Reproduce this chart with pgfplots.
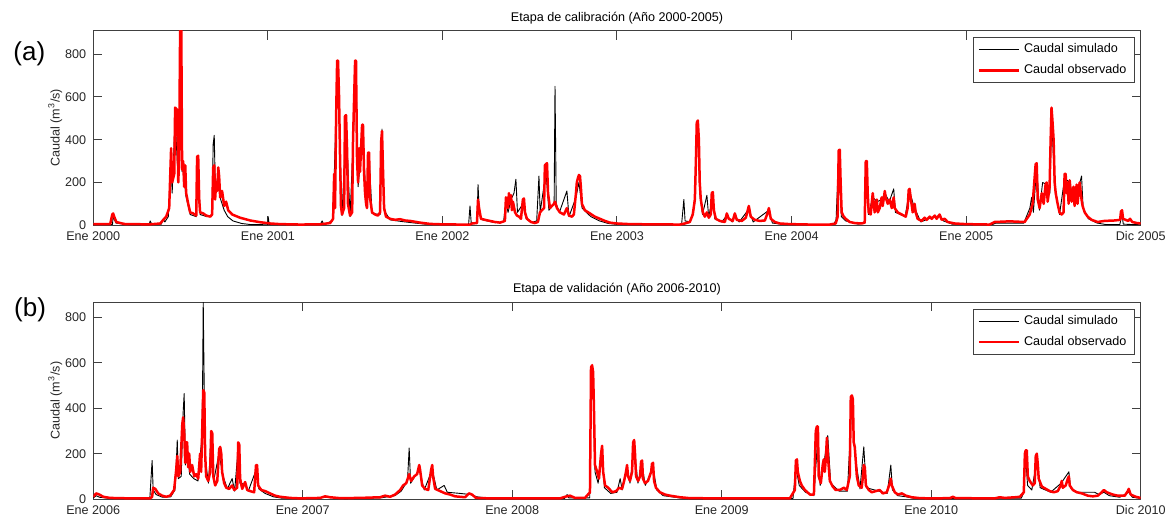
\documentclass[border=0pt]{standalone}
\usepackage{fontspec}
\setmainfont{Liberation Sans}
\usepackage{pgfplots}
\pgfplotsset{compat=1.18}

\newcommand\fs{\fontsize{6.3}{7.5}\selectfont}

\pgfplotsset{
  caudal/.style={
    width=524pt, scale only axis,
    xmin=0, ymin=0,
    clip mode=individual,
    axis line style={black!75, line width=0.5pt},
    tick style={black!75, line width=0.5pt},
    tick align=inside, major tick length=4.5pt,
    ytick={0,200,400,600,800},
    ticklabel style={font=\fs, text=black!85},
    /pgf/number format/assume math mode=true,
    xticklabel style={anchor=base, yshift=-7.9pt},
    every axis title shift=0pt,
    title style={font=\fs, anchor=base, at={(0.5,1)}, yshift=4.7pt},
    ylabel={Caudal (m\textsuperscript{3}/s)},
    ylabel style={font=\fs, text=black!85, at={(axis description cs:-0.0363,0.5)}, anchor=center},
    legend style={at={(1,1)}, anchor=north east, xshift=-3pt, yshift=-3.2pt,
      font=\fs, draw=black!75, inner xsep=2pt, inner ysep=1pt, row sep=0.5pt},
    legend cell align=left,
    legend image code/.code={\draw[#1] (0pt,0pt) -- (20pt,0pt);},
  },
  sim/.style={black, line width=0.45pt, line join=round},
  obs/.style={red, line width=1.25pt, line join=round},
}

\begin{document}
\begin{tikzpicture}
% (a) calibracion 2000-2005, x en anios desde Ene 2000
\begin{axis}[caudal, name=A, at={(0,0)}, anchor=north west,
    height=97.3pt, xmax=6, ymax=910,
    xtick={0,1,2,3,4,5,6},
    xticklabels={Ene 2000,Ene 2001,Ene 2002,Ene 2003,Ene 2004,Ene 2005,Dic 2005},
    title={Etapa de calibración (Año 2000-2005)}]
\addplot[sim] coordinates {
(0,3) (0.11,3) (0.114,40) (0.13,10) (0.2,3) (0.32,2) (0.326,20) (0.335,4) (0.39,5)
(0.401,30) (0.41,15) (0.43,40) (0.446,300) (0.452,150) (0.469,500) (0.487,200)
(0.498,650) (0.509,250) (0.515,280) (0.53,140) (0.555,50) (0.59,40) (0.601,300)
(0.612,50) (0.65,40) (0.68,45) (0.687,380) (0.693,420) (0.70,150) (0.716,250)
(0.73,120) (0.75,70) (0.77,40) (0.80,20) (0.85,8) (0.90,3) (1.0,2) (1.002,40)
(1.008,3) (1.3,3) (1.311,20) (1.32,4) (1.37,20) (1.38,220) (1.397,700) (1.408,500)
(1.425,45) (1.448,480) (1.471,40) (1.505,720) (1.517,180) (1.534,330) (1.545,440)
(1.563,90) (1.58,320) (1.597,55) (1.643,50) (1.654,450) (1.666,70) (1.70,25)
(1.76,18) (1.82,12) (1.90,5) (2.0,3) (2.15,3) (2.158,90) (2.165,10) (2.198,10)
(2.204,190) (2.212,50) (2.23,25) (2.30,12) (2.35,15) (2.364,110) (2.376,60)
(2.393,120) (2.41,150) (2.421,215) (2.43,60) (2.461,100) (2.48,30) (2.51,12)
(2.54,20) (2.553,230) (2.56,60) (2.593,250) (2.61,70) (2.64,100) (2.645,650)
(2.652,100) (2.67,60) (2.713,160) (2.725,40) (2.765,130) (2.782,200) (2.80,80)
(2.85,40) (2.90,20) (2.95,8) (3.0,4) (3.37,3) (3.383,120) (3.39,20) (3.42,15)
(3.444,90) (3.452,280) (3.463,460) (3.474,150) (3.49,50) (3.515,140) (3.525,40)
(3.549,130) (3.56,30) (3.60,15) (3.629,45) (3.66,15) (3.675,45) (3.70,15)
(3.755,75) (3.78,15) (3.87,70) (3.89,10) (3.95,4) (4.0,3) (4.24,3) (4.255,25)
(4.27,330) (4.285,40) (4.31,20) (4.38,5) (4.42,10) (4.428,290) (4.44,50)
(4.465,130) (4.49,110) (4.516,120) (4.534,150) (4.56,110) (4.585,170) (4.595,60)
(4.65,40) (4.676,160) (4.70,90) (4.74,15) (4.80,35) (4.85,45) (4.87,20) (4.92,5)
(5.0,3) (5.15,3) (5.17,10) (5.33,10) (5.365,80) (5.375,130) (5.385,60) (5.404,270)
(5.42,70) (5.438,200) (5.461,190) (5.48,150) (5.489,520) (5.507,180) (5.535,50)
(5.564,220) (5.593,200) (5.62,100) (5.661,230) (5.67,80) (5.70,30) (5.75,10)
(5.80,3) (5.88,3) (5.893,50) (5.90,5) (5.95,3) (6.0,2)
};
\addlegendentry{Caudal simulado}
\addplot[obs] coordinates {
(0,5) (0.069,5) (0.097,5) (0.109,50) (0.114,55) (0.120,40) (0.132,15) (0.155,10)
(0.183,5) (0.326,4) (0.384,8) (0.401,25) (0.418,40) (0.435,80) (0.446,360)
(0.452,200) (0.464,240) (0.469,550) (0.481,540) (0.487,200) (0.492,320)
(0.498,950) (0.504,950) (0.509,260) (0.515,300) (0.521,180) (0.527,280)
(0.532,150) (0.544,100) (0.555,60) (0.572,55) (0.590,45) (0.595,320) (0.601,325)
(0.607,120) (0.612,60) (0.630,55) (0.647,45) (0.670,40) (0.681,50) (0.687,270)
(0.693,280) (0.698,120) (0.704,200) (0.710,160) (0.716,270) (0.721,230)
(0.727,130) (0.738,160) (0.750,90) (0.761,110) (0.773,70) (0.796,50) (0.841,35)
(0.899,22) (0.956,14) (1.013,8) (1.070,5) (1.185,3) (1.299,4) (1.357,10)
(1.374,30) (1.380,240) (1.385,80) (1.391,500) (1.397,770) (1.402,770) (1.408,600)
(1.414,300) (1.419,90) (1.425,50) (1.437,80) (1.442,510) (1.448,515) (1.454,350)
(1.459,100) (1.471,45) (1.483,60) (1.488,400) (1.500,770) (1.505,770) (1.511,300)
(1.517,200) (1.523,360) (1.528,250) (1.534,360) (1.540,470) (1.545,470)
(1.551,250) (1.557,150) (1.563,100) (1.568,80) (1.574,340) (1.580,340)
(1.585,130) (1.597,60) (1.614,50) (1.631,45) (1.643,60) (1.649,390) (1.654,440)
(1.660,250) (1.666,80) (1.677,40) (1.700,30) (1.729,25) (1.757,28) (1.786,22)
(1.815,20) (1.872,12) (1.929,6) (1.998,4) (2.101,3) (2.158,3) (2.170,8)
(2.198,10) (2.204,120) (2.210,80) (2.221,30) (2.244,25) (2.272,20) (2.301,15)
(2.330,12) (2.358,20) (2.364,130) (2.370,120) (2.376,80) (2.381,150) (2.387,100)
(2.393,140) (2.398,70) (2.404,110) (2.416,60) (2.427,45) (2.439,40) (2.450,30)
(2.461,120) (2.467,125) (2.473,60) (2.484,30) (2.507,15) (2.530,10) (2.547,15)
(2.559,60) (2.570,70) (2.582,80) (2.587,280) (2.593,285) (2.599,290) (2.605,150)
(2.616,80) (2.627,90) (2.639,100) (2.645,110) (2.656,80) (2.673,60) (2.696,50)
(2.713,80) (2.725,45) (2.742,40) (2.753,50) (2.765,150) (2.770,200) (2.776,220)
(2.782,235) (2.788,230) (2.793,180) (2.799,100) (2.816,70) (2.845,55) (2.873,40)
(2.902,30) (2.931,20) (2.959,12) (2.999,8) (3.074,5) (3.188,4) (3.360,3)
(3.389,8) (3.417,15) (3.434,50) (3.446,120) (3.452,300) (3.457,480) (3.463,490)
(3.469,400) (3.474,200) (3.480,120) (3.492,60) (3.503,40) (3.515,60) (3.526,35)
(3.537,50) (3.543,150) (3.549,155) (3.555,70) (3.566,30) (3.589,20) (3.618,15)
(3.629,55) (3.640,30) (3.663,20) (3.675,55) (3.686,25) (3.715,20) (3.738,35)
(3.749,70) (3.755,90) (3.766,40) (3.789,25) (3.818,20) (3.847,22) (3.864,60)
(3.870,80) (3.881,30) (3.904,15) (3.932,8) (3.990,5) (4.104,3) (4.219,3)
(4.253,8) (4.264,40) (4.270,350) (4.276,353) (4.281,200) (4.287,60) (4.299,40)
(4.310,30) (4.333,15) (4.362,10) (4.402,8) (4.419,12) (4.425,300) (4.431,300)
(4.436,150) (4.442,60) (4.453,50) (4.465,150) (4.471,100) (4.476,60) (4.488,120)
(4.494,60) (4.505,80) (4.516,130) (4.522,90) (4.534,160) (4.539,130) (4.551,100)
(4.562,120) (4.574,80) (4.585,130) (4.591,80) (4.608,60) (4.631,50) (4.654,40)
(4.665,80) (4.671,165) (4.676,170) (4.682,130) (4.694,60) (4.705,100) (4.711,60)
(4.722,30) (4.745,20) (4.762,35) (4.774,25) (4.791,40) (4.803,30) (4.820,45)
(4.831,30) (4.848,50) (4.860,25) (4.877,30) (4.894,15) (4.934,8) (4.997,5)
(5.134,3) (5.163,15) (5.249,18) (5.335,15) (5.364,50) (5.381,100) (5.398,285)
(5.404,290) (5.410,120) (5.421,80) (5.433,150) (5.444,100) (5.455,190) (5.461,200)
(5.467,110) (5.478,180) (5.484,400) (5.489,550) (5.495,480) (5.501,400)
(5.507,200) (5.513,150) (5.524,100) (5.535,60) (5.547,50) (5.558,60) (5.564,240)
(5.570,240) (5.575,150) (5.581,200) (5.587,100) (5.593,210) (5.604,110)
(5.615,180) (5.621,90) (5.633,190) (5.638,100) (5.650,200) (5.661,120) (5.667,90)
(5.679,60) (5.696,40) (5.719,25) (5.753,15) (5.793,20) (5.850,22) (5.882,25)
(5.887,65) (5.893,70) (5.899,30) (5.928,20) (5.939,30) (5.951,15) (5.979,10)
(6.000,8)
};
\addlegendentry{Caudal observado}
\end{axis}

% (b) validacion 2006-2010, x en anios desde Ene 2006
\begin{axis}[caudal, name=B, at={(0,-135.8pt)}, anchor=north west,
    height=98.5pt, xmax=5, ymax=868,
    xtick={0,1,2,3,4,5},
    xticklabels={Ene 2006,Ene 2007,Ene 2008,Ene 2009,Ene 2010,Dic 2010},
    title={Etapa de validación (Año 2006-2010)}]
\addplot[sim] coordinates {
(0,5) (0.014,15) (0.03,8) (0.08,3) (0.27,2) (0.281,170) (0.286,40) (0.30,20)
(0.33,8) (0.37,10) (0.39,40) (0.396,150) (0.401,260) (0.406,90) (0.42,100)
(0.429,380) (0.434,465) (0.44,150) (0.448,230) (0.46,110) (0.48,90) (0.50,80)
(0.51,190) (0.52,280) (0.525,868) (0.528,620) (0.534,180) (0.55,70) (0.563,280)
(0.575,80) (0.60,200) (0.62,100) (0.64,45) (0.663,90) (0.675,35) (0.692,230)
(0.70,70) (0.725,65) (0.74,35) (0.782,140) (0.79,45) (0.82,25) (0.86,10) (0.90,4)
(1.0,2) (1.107,8) (1.2,2) (1.37,5) (1.44,15) (1.47,35) (1.50,80) (1.508,225)
(1.515,70) (1.556,130) (1.58,40) (1.618,130) (1.64,40) (1.675,60) (1.69,30)
(1.75,25) (1.80,20) (1.83,10) (1.90,3) (2.25,3) (2.262,20) (2.27,5) (2.37,5)
(2.376,540) (2.386,500) (2.395,120) (2.41,70) (2.429,210) (2.44,50) (2.47,25)
(2.50,30) (2.515,90) (2.525,40) (2.548,130) (2.562,70) (2.582,230) (2.60,70)
(2.62,150) (2.635,60) (2.672,140) (2.69,40) (2.72,15) (2.80,5) (2.85,2) (3.34,2)
(3.354,140) (3.37,60) (3.40,30) (3.44,15) (3.459,280) (3.47,60) (3.487,150)
(3.506,280) (3.52,70) (3.56,35) (3.60,35) (3.621,420) (3.635,200) (3.66,45)
(3.678,230) (3.69,50) (3.75,35) (3.79,25) (3.807,150) (3.815,40) (3.84,15)
(3.88,10) (3.92,3) (4.0,2) (4.43,4) (4.44,25) (4.451,180) (4.46,60) (4.48,40)
(4.504,170) (4.52,50) (4.57,30) (4.62,70) (4.657,120) (4.665,50) (4.69,30)
(4.74,30) (4.78,30) (4.80,20) (4.824,30) (4.85,15) (4.90,8) (4.943,30) (4.96,8)
(5.0,3)
};
\addlegendentry{Caudal simulado}
\addplot[obs] coordinates {
(0,10) (0.014,25) (0.029,20) (0.048,10) (0.081,5) (0.177,3) (0.272,3) (0.281,10)
(0.286,50) (0.296,45) (0.310,25) (0.329,15) (0.348,10) (0.367,15) (0.386,40)
(0.396,130) (0.401,190) (0.406,100) (0.415,120) (0.425,330) (0.429,360)
(0.434,300) (0.439,160) (0.444,250) (0.448,250) (0.453,140) (0.458,200)
(0.463,120) (0.472,150) (0.482,100) (0.491,110) (0.501,90) (0.510,200)
(0.515,120) (0.520,300) (0.525,480) (0.530,470) (0.534,200) (0.539,100)
(0.549,80) (0.558,120) (0.563,300) (0.568,290) (0.573,100) (0.582,60) (0.592,80)
(0.601,220) (0.606,230) (0.611,200) (0.615,120) (0.625,70) (0.635,50) (0.649,45)
(0.663,60) (0.673,40) (0.687,50) (0.692,250) (0.697,240) (0.701,90) (0.711,45)
(0.725,75) (0.735,40) (0.749,35) (0.768,30) (0.777,150) (0.782,150) (0.787,60)
(0.802,40) (0.821,35) (0.844,25) (0.868,15) (0.892,10) (0.940,5) (0.988,3)
(1.083,5) (1.107,12) (1.131,8) (1.178,4) (1.274,5) (1.369,8) (1.393,15)
(1.417,10) (1.441,20) (1.465,40) (1.479,60) (1.494,70) (1.508,110) (1.517,80)
(1.532,100) (1.546,110) (1.556,150) (1.560,130) (1.570,60) (1.584,45) (1.599,40)
(1.613,130) (1.618,150) (1.622,100) (1.632,45) (1.656,35) (1.680,25) (1.703,20)
(1.727,12) (1.751,10) (1.775,8) (1.794,25) (1.808,20) (1.827,5) (1.894,3)
(2.004,3) (2.228,3) (2.252,10) (2.276,15) (2.300,5) (2.347,5) (2.371,30)
(2.376,580) (2.381,590) (2.386,560) (2.390,400) (2.395,150) (2.405,120)
(2.414,90) (2.424,200) (2.429,235) (2.434,120) (2.443,60) (2.458,50) (2.477,30)
(2.496,35) (2.510,50) (2.524,45) (2.534,80) (2.543,120) (2.548,150) (2.553,100)
(2.562,80) (2.572,120) (2.577,250) (2.582,260) (2.586,200) (2.591,100)
(2.601,80) (2.610,100) (2.615,165) (2.620,170) (2.624,90) (2.634,70) (2.648,80)
(2.663,120) (2.667,155) (2.672,160) (2.677,80) (2.686,50) (2.705,30) (2.729,20)
(2.753,15) (2.801,8) (2.848,4) (3.001,3) (3.325,3) (3.349,40) (3.354,170)
(3.359,175) (3.363,120) (3.373,80) (3.382,60) (3.397,40) (3.421,20) (3.440,20)
(3.449,300) (3.454,320) (3.459,320) (3.463,100) (3.473,70) (3.482,150)
(3.487,175) (3.492,120) (3.497,180) (3.502,270) (3.506,200) (3.516,80)
(3.530,55) (3.544,40) (3.564,40) (3.583,50) (3.597,40) (3.611,100) (3.616,450)
(3.621,457) (3.626,440) (3.630,250) (3.635,230) (3.645,100) (3.654,60)
(3.668,50) (3.673,90) (3.678,150) (3.683,140) (3.688,60) (3.702,40) (3.716,30)
(3.735,35) (3.754,40) (3.769,25) (3.788,30) (3.802,70) (3.807,90) (3.812,60)
(3.826,30) (3.841,20) (3.860,25) (3.879,15) (3.907,8) (3.946,4) (4.003,3)
(4.089,4) (4.103,10) (4.117,4) (4.303,3) (4.327,8) (4.351,5) (4.399,8) (4.423,10)
(4.442,30) (4.447,200) (4.451,215) (4.456,215) (4.461,100) (4.470,80) (4.485,60)
(4.494,70) (4.499,190) (4.504,200) (4.509,150) (4.513,90) (4.528,55) (4.547,45)
(4.566,35) (4.585,30) (4.604,35) (4.618,60) (4.623,80) (4.628,50) (4.642,60)
(4.652,90) (4.657,100) (4.661,60) (4.676,40) (4.695,30) (4.719,25) (4.747,15)
(4.771,12) (4.795,15) (4.814,30) (4.824,40) (4.838,30) (4.852,25) (4.866,20)
(4.890,15) (4.924,15) (4.938,35) (4.943,45) (4.952,20) (4.976,10) (5.000,5)
};
\addlegendentry{Caudal observado}
\end{axis}

\node[font=\fontsize{13}{13}\selectfont] at ([xshift=-32pt,yshift=-11.4pt]A.north west) {(a)};
\node[font=\fontsize{13}{13}\selectfont] at ([xshift=-31.6pt,yshift=-3.9pt]B.north west) {(b)};

\pgfresetboundingbox
\path ([shift={(-46.65pt,15.35pt)}]A.north west) rectangle ([shift={(15.65pt,-10.85pt)}]B.south east);
\end{tikzpicture}
\end{document}
